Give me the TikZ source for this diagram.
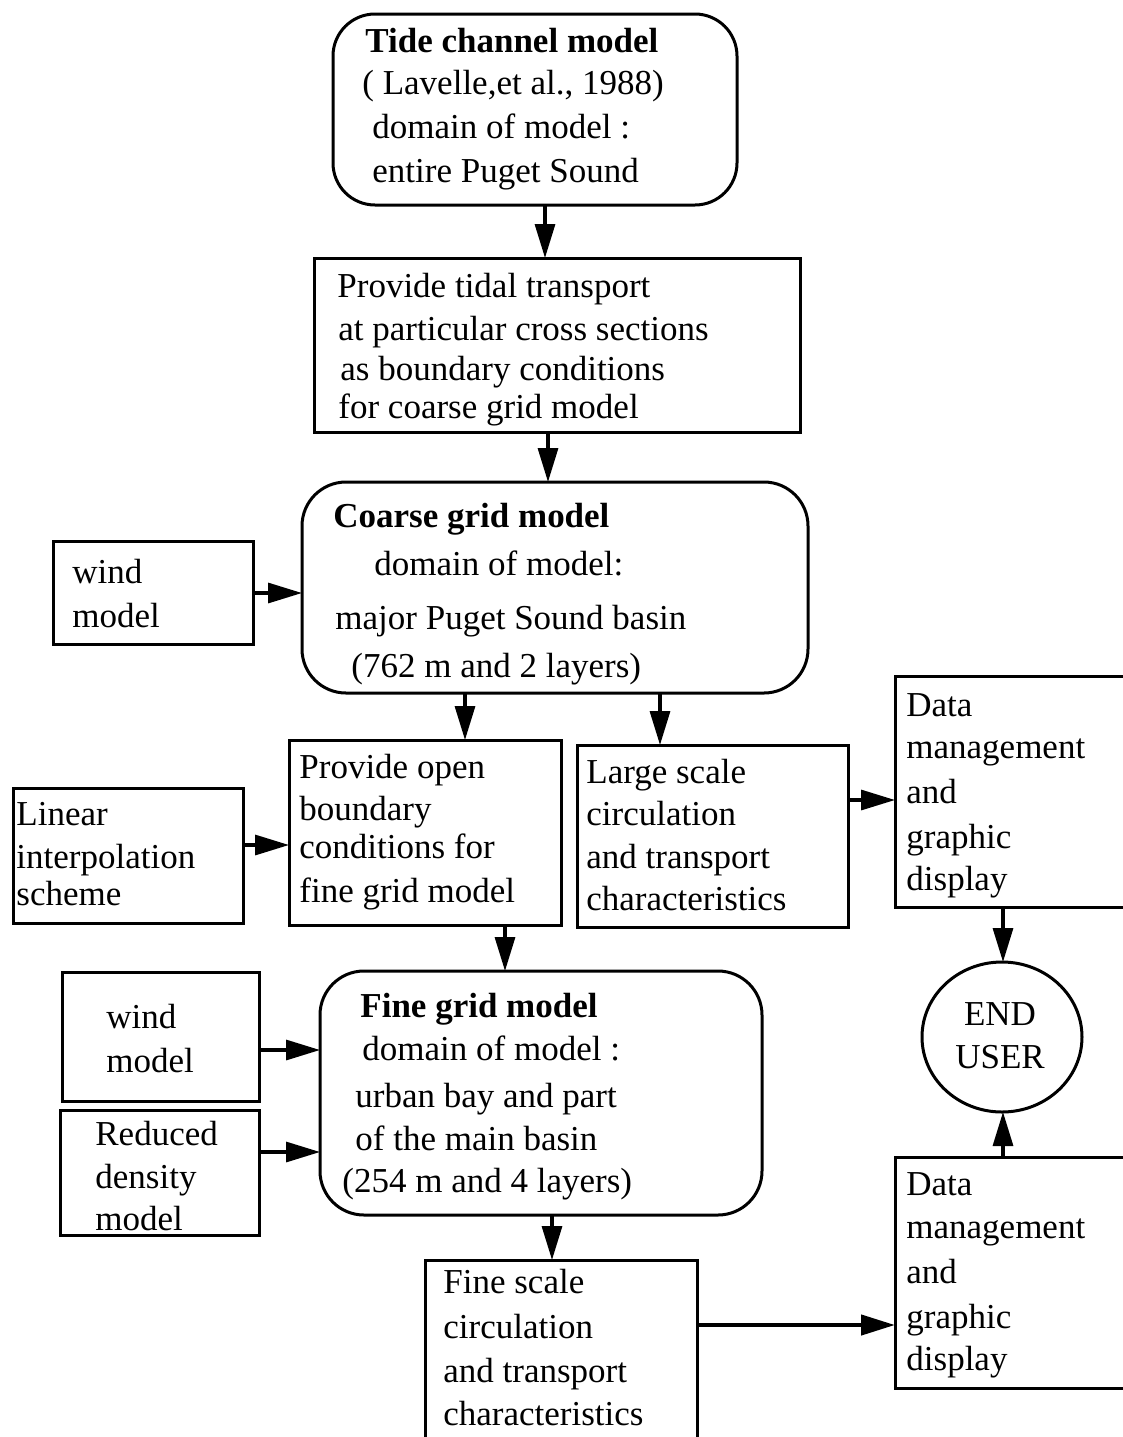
\documentclass[tikz,border=0pt]{standalone}
\usepackage{fontspec}
\setmainfont{Liberation Serif}
\usetikzlibrary{arrows.meta,shapes.geometric}
\newcommand\mytxt[4]{\node[txt] (#1) at (#2,#3) {#4};}
\newcommand\mybtxt[4]{\node[btxt] (#1) at (#2,#3) {#4};}
\begin{document}
\begin{tikzpicture}[x=0.5pt,y=-0.5pt,
  box/.style={draw, line width=1.5pt, inner sep=0pt, outer sep=0pt},
  sqbox/.style={box, rectangle},
  rbox/.style={box, rectangle, rounded corners=21pt},
  ovalbox/.style={box, ellipse, minimum width=80pt, minimum height=75pt},
  arr/.style={line width=1.6pt, -{Triangle[length=17pt,width=10pt]}},
  txt/.style={anchor=base west, inner sep=0pt, font=\fontsize{17.5}{21}\selectfont},
  btxt/.style={txt, font=\fontsize{17.5}{21}\selectfont\bfseries},
  ctxt/.style={anchor=base, inner sep=0pt, font=\fontsize{17.5}{21}\selectfont},
]
\path[use as bounding box, fill=white] (0,0) rectangle (1123,1437);

% boxes
\node[rbox, minimum width=202pt, minimum height=95.5pt] (tide) at (535,109.5) {};
\node[sqbox, minimum width=243pt, minimum height=87pt] (tidal) at (557,345) {};
\node[rbox, minimum width=253pt, minimum height=105.5pt, rounded corners=22pt] (coarse) at (555,587.5) {};
\node[sqbox, minimum width=100pt, minimum height=51.5pt] (wind1) at (153,592.5) {};
\node[sqbox, minimum width=136pt, minimum height=92.5pt] (open) at (425,832.5) {};
\node[sqbox, minimum width=135.5pt, minimum height=91pt] (large) at (712.5,836) {};
\node[sqbox, minimum width=115pt, minimum height=67.5pt] (linear) at (128,855.5) {};
\node[sqbox, minimum width=120pt, minimum height=115.5pt] (data1) at (1015,791.5) {};
\node[ovalbox] (endu) at (1002,1037) {};
\node[sqbox, minimum width=120pt, minimum height=115.5pt] (data2) at (1015,1272.5) {};
\node[rbox, minimum width=221pt, minimum height=122pt, rounded corners=22pt] (fine) at (541,1093) {};
\node[sqbox, minimum width=98.5pt, minimum height=64.5pt] (wind2) at (160.5,1036.5) {};
\node[sqbox, minimum width=99.5pt, minimum height=62.5pt] (reduced) at (159.5,1172.5) {};
\node[sqbox, minimum width=136pt, minimum height=97pt] (finescale) at (561,1357) {};

% texts
\mybtxt{t1a}{365}{52}{Tide channel model}
\mytxt{t1b}{362}{94}{( Lavelle,et al., 1988)}
\mytxt{t1c}{372}{138}{domain of model :}
\mytxt{t1d}{372}{182}{entire Puget Sound}

\mytxt{t2a}{337}{297}{Provide tidal transport}
\mytxt{t2b}{338}{340}{at particular cross sections}
\mytxt{t2c}{340}{380}{as boundary conditions}
\mytxt{t2d}{338}{418}{for coarse grid model}

\mybtxt{t3a}{333}{527}{Coarse grid model}
\mytxt{t3b}{374}{575}{domain of model:}
\mytxt{t3c}{335}{629}{major Puget Sound basin}
\mytxt{t3d}{351}{677}{(762 m and 2 layers)}

\mytxt{t4a}{72}{583}{wind}
\mytxt{t4b}{72}{627}{model}

\mytxt{t5a}{299}{778}{Provide open}
\mytxt{t5b}{299}{820}{boundary}
\mytxt{t5c}{299}{858}{conditions for}
\mytxt{t5d}{299}{902}{fine grid model}

\mytxt{t6a}{586}{783}{Large scale}
\mytxt{t6b}{586}{825}{circulation}
\mytxt{t6c}{586}{868}{and transport}
\mytxt{t6d}{586}{910}{characteristics}

\mytxt{t7a}{16}{825}{Linear}
\mytxt{t7b}{16}{868}{interpolation}
\mytxt{t7c}{16}{905}{scheme}

\mytxt{t8a}{906}{716}{Data}
\mytxt{t8b}{906}{758}{management}
\mytxt{t8c}{906}{803}{and}
\mytxt{t8d}{906}{848}{graphic}
\mytxt{t8e}{906}{890}{display}

\node[ctxt] (t9a) at (1000,1025) {END};
\node[ctxt] (t9b) at (1000,1068) {USER};

\mybtxt{t10a}{360}{1017}{Fine grid model}
\mytxt{t10b}{362}{1060}{domain of model :}
\mytxt{t10c}{355}{1107}{urban bay and part}
\mytxt{t10d}{355}{1150}{of the main basin}
\mytxt{t10e}{342}{1192}{(254 m and 4 layers)}

\mytxt{t11a}{106}{1028}{wind}
\mytxt{t11b}{106}{1072}{model}

\mytxt{t12a}{95}{1145}{Reduced}
\mytxt{t12b}{95}{1188}{density}
\mytxt{t12c}{95}{1230}{model}

\mytxt{t13a}{443}{1293}{Fine scale}
\mytxt{t13b}{443}{1338}{circulation}
\mytxt{t13c}{443}{1382}{and transport}
\mytxt{t13d}{443}{1425}{characteristics}

\mytxt{t14a}{906}{1195}{Data}
\mytxt{t14b}{906}{1238}{management}
\mytxt{t14c}{906}{1283}{and}
\mytxt{t14d}{906}{1328}{graphic}
\mytxt{t14e}{906}{1370}{display}

% connector guides
\coordinate (v1) at (545,0);
\coordinate (v2) at (548,0);
\coordinate (v3) at (465,0);
\coordinate (v4) at (660,0);
\coordinate (v5) at (505,0);
\coordinate (v6) at (552,0);
\coordinate (v7) at (1003,0);
\coordinate (h1) at (0,593);
\coordinate (h2) at (0,845);
\coordinate (h3) at (0,800);
\coordinate (h4) at (0,1050);
\coordinate (h5) at (0,1152);
\coordinate (h6) at (0,1325);

% connectors
\draw[arr] (tide.south -| v1) -- (tidal.north -| v1);
\draw[arr] (tidal.south -| v2) -- (coarse.north -| v2);
\draw[arr] (wind1.east |- h1) -- (coarse.west |- h1);
\draw[arr] (coarse.south -| v3) -- (open.north -| v3);
\draw[arr] (coarse.south -| v4) -- (large.north -| v4);
\draw[arr] (linear.east |- h2) -- (open.west |- h2);
\draw[arr] (large.east |- h3) -- (data1.west |- h3);
\draw[arr] (open.south -| v5) -- (fine.north -| v5);
\draw[arr] (data1.south -| v7) -- (endu.north -| v7);
\draw[arr] (data2.north -| v7) -- (endu.south -| v7);
\draw[arr] (wind2.east |- h4) -- (fine.west |- h4);
\draw[arr] (reduced.east |- h5) -- (fine.west |- h5);
\draw[arr] (fine.south -| v6) -- (finescale.north -| v6);
\draw[arr, line width=2.2pt] (finescale.east |- h6) -- (data2.west |- h6);
\end{tikzpicture}
\end{document}
